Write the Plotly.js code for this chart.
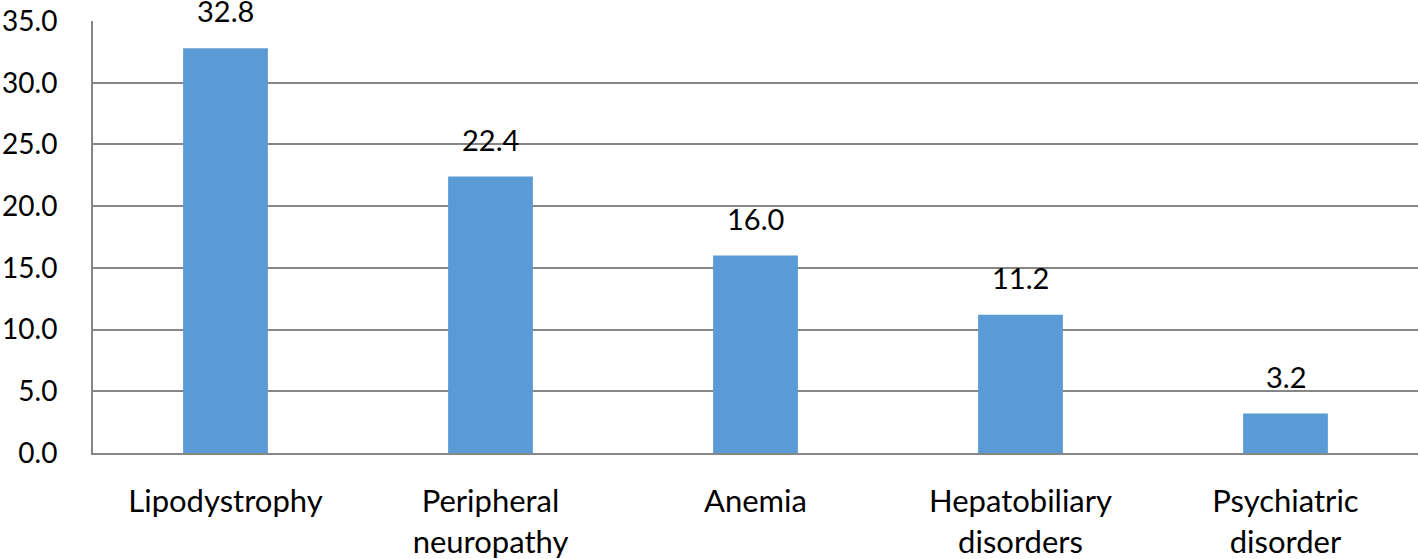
<!DOCTYPE html>
<html>
<head>
<meta charset="utf-8">
<script src="https://cdn.plot.ly/plotly-3.0.1.min.js"></script>
<style>
  html, body { margin: 0; padding: 0; background: #fff; }
  #chart { width: 1418px; height: 559px; }
</style>
</head>
<body>
<div id="chart"></div>
<script>
// Adverse effects (%)
const categories = ['Lipodystrophy', 'Peripheral<br>neuropathy', 'Anemia', 'Hepatobiliary<br>disorders', 'Psychiatric<br>disorder'];
const percents = [32.8, 22.4, 16.0, 11.2, 3.2];
const yTicks = [0, 5, 10, 15, 20, 25, 30, 35];

const fontFamily = 'Lato, "Open Sans", sans-serif';

const trace = {
    x: categories,
    y: percents,
    type: 'bar',
    marker: { color: '#5B9BD5' },
    hoverinfo: 'none'
};

// value labels above each bar
const labels = categories.map((c, i) => ({
    x: c,
    y: percents[i],
    text: percents[i].toFixed(1),
    showarrow: false,
    yanchor: 'bottom',
    yshift: 18,
    font: { family: fontFamily, size: 29, color: '#000' }
}));

const layout = {
    width: 1418,
    height: 559,
    margin: { l: 93, r: 0, t: 21, b: 106 },
    paper_bgcolor: '#fff',
    plot_bgcolor: '#fff',
    showlegend: false,
    bargap: 0.68,
    font: { family: fontFamily, size: 27, color: '#000' },
    xaxis: {
        showline: true,
        linecolor: '#868686',
        linewidth: 2,
        showgrid: false,
        ticks: '',
        ticklabelstandoff: 20,
        tickfont: { family: fontFamily, size: 31, color: '#000' }
    },
    yaxis: {
        range: [0, 35],
        tickvals: yTicks,
        ticktext: yTicks.map(v => v.toFixed(1)),
        showline: true,
        linecolor: '#868686',
        linewidth: 2,
        gridcolor: '#868686',
        gridwidth: 2,
        zeroline: false,
        ticks: '',
        ticklabelstandoff: 28,
        tickfont: { family: fontFamily, size: 28, color: '#000' }
    },
    annotations: labels
};

Plotly.newPlot('chart', [trace], layout, { staticPlot: true });
</script>
</body>
</html>
